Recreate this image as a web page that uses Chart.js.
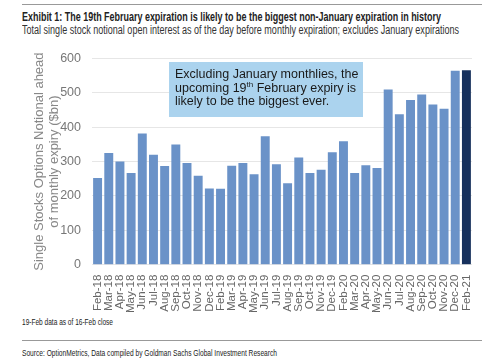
<!DOCTYPE html>
<html>
<head>
<meta charset="utf-8">
<script src="https://cdn.jsdelivr.net/npm/chart.js@4"></script>
<style>
  body { margin: 0; background: #fff; width: 500px; height: 363px; overflow: hidden; position: relative; }
  .narrow { font-family: 'Liberation Sans', Arial, sans-serif; position: absolute; left: 22px; white-space: nowrap; transform-origin: 0 0; }
  #topline { position: absolute; left: 22px; top: 4px; width: 460px; border-top: 1px solid #999; }
  #title { top: 10px; font-size: 12.5px; font-weight: bold; color: #222; }
  #subtitle { top: 23px; font-size: 12px; color: #333; }
  #note { top: 316px; font-size: 9.5px; color: #222; }
  #botline { position: absolute; left: 22px; top: 340px; width: 460px; border-top: 1px solid #999; }
  #source { top: 347px; font-size: 9.5px; color: #222; }
  #wrap { position: absolute; left: 0; top: 40px; width: 500px; height: 275px; }
</style>
</head>
<body>
<div id="topline"></div>
<div id="title" class="narrow" data-w="419">Exhibit 1: The 19th February expiration is likely to be the biggest non-January expiration in history</div>
<div id="subtitle" class="narrow" data-w="437">Total single stock notional open interest as of the day before monthly expiration; excludes January expirations</div>
<div id="wrap"><canvas id="chart"></canvas></div>
<div id="note" class="narrow" data-w="91">19-Feb data as of 16-Feb close</div>
<div id="botline"></div>
<div id="source" class="narrow" data-w="255">Source: OptionMetrics, Data compiled by Goldman Sachs Global Investment Research</div>
<script>
var months = ['Feb-18', 'Mar-18', 'Apr-18', 'May-18', 'Jun-18', 'Jul-18', 'Aug-18', 'Sep-18', 'Oct-18', 'Nov-18', 'Dec-18',
    'Feb-19', 'Mar-19', 'Apr-19', 'May-19', 'Jun-19', 'Jul-19', 'Aug-19', 'Sep-19', 'Oct-19', 'Nov-19', 'Dec-19',
    'Feb-20', 'Mar-20', 'Apr-20', 'May-20', 'Jun-20', 'Jul-20', 'Aug-20', 'Sep-20', 'Oct-20', 'Nov-20', 'Dec-20',
    'Feb-21']
var notional = [252, 325, 300, 267, 382, 320, 287, 350, 296, 259, 222,
    221, 288, 296, 263, 374, 292, 237, 312, 267, 276, 327,
    359, 267, 289, 281, 510, 438, 479, 495, 466, 454, 564,
    566]
var yTicks = [0, 100, 200, 300, 400, 500, 600]
var noteLines = ['Excluding January monthlies, the', 'upcoming 19|th| February expiry is', 'likely to be the biggest ever.']

// squeeze the narrow header/footer texts to the reference widths
document.querySelectorAll('.narrow').forEach(function (el) {
    var w = el.getBoundingClientRect().width
    el.style.transform = 'scaleX(' + (+el.dataset.w / w) + ')'
})

var barColors = notional.map(function (v, i) {
    return i == notional.length - 1 ? '#16305c' : '#6a92c8'
})

// annotation box drawn on top of the plot
var noteBox = {
    id: 'noteBox',
    afterDatasetsDraw: function (chart) {
        var ctx = chart.ctx
        var x = 169, y = 22, w = 194, h = 55
        ctx.save()
        ctx.fillStyle = '#abd3ee'
        ctx.fillRect(x, y, w, h)
        ctx.fillStyle = '#1a1a1a'
        ctx.textBaseline = 'alphabetic'
        noteLines.forEach(function (line, i) {
            var parts = line.split('|')
            var cx = x + 6
            var cy = y + 16 + i * 13.5
            parts.forEach(function (p, j) {
                if (j == 1) {
                    ctx.font = '8px Arial, "Liberation Sans", sans-serif'
                    ctx.fillText(p, cx, cy - 5)
                } else {
                    ctx.font = '12.5px Arial, "Liberation Sans", sans-serif'
                    ctx.fillText(p, cx, cy)
                }
                cx += ctx.measureText(p).width
            })
        })
        ctx.restore()
    }
}

var ctx = document.getElementById('chart').getContext('2d')
var chart = new Chart(ctx, {
    type: 'bar',
    data: {
        labels: months,
        datasets: [{
            data: notional,
            backgroundColor: barColors,
            categoryPercentage: 1,
            barPercentage: 0.8
        }]
    },
    options: {
        responsive: true,
        maintainAspectRatio: false,
        animation: false,
        layout: { padding: { left: 32, right: 28, top: 14, bottom: 0 } },
        plugins: { legend: { display: false }, tooltip: { enabled: false } },
        scales: {
            x: {
                grid: { display: false },
                border: { display: false },
                ticks: {
                    autoSkip: false,
                    minRotation: 90,
                    maxRotation: 90,
                    padding: 2,
                    color: '#666',
                    font: { family: 'Arial, "Liberation Sans", sans-serif', size: 11.5 }
                }
            },
            y: {
                min: 0,
                max: 600,
                afterBuildTicks: function (axis) {
                    axis.ticks = yTicks.map(function (v) { return { value: v } })
                },
                afterFit: function (axis) {
                    axis.width = 60
                },
                grid: { color: '#e6e6e6', drawTicks: false },
                border: { display: false },
                ticks: {
                    padding: 11,
                    color: '#777',
                    font: { family: 'Arial, "Liberation Sans", sans-serif', size: 12.5 }
                },
                title: {
                    display: true,
                    text: ['Single Stocks Options Notional ahead', 'of monthly expiry ($bn)'],
                    color: '#888',
                    padding: 0,
                    font: { family: 'Arial, "Liberation Sans", sans-serif', size: 13, lineHeight: 1.15 }
                }
            }
        }
    },
    plugins: [noteBox]
})
</script>
</body>
</html>
